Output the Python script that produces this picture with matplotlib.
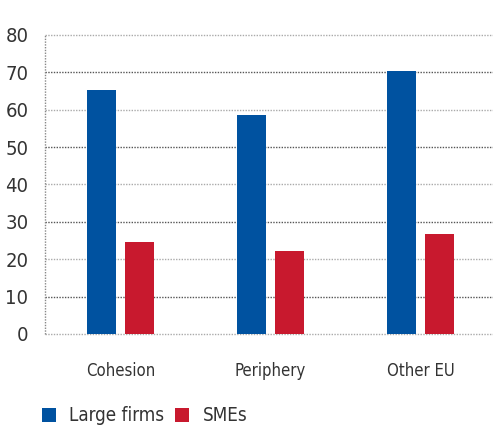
import numpy as np
import matplotlib
matplotlib.use("Agg")
from matplotlib import pyplot as plt

categories = ["Cohesion", "Periphery", "Other EU"]
large_firms = [65.2, 58.6, 70.3]
smes = [24.7, 22.2, 26.8]
yticks = [0, 10, 20, 30, 40, 50, 60, 70, 80]

plt.rcParams['font.family'] = ['DejaVu Sans']
plt.rcParams['font.stretch'] = 'condensed'

blue = '#0052a0'
red = '#c8192e'

fig = plt.figure(figsize=(4.93, 4.26), dpi=100)
ax = fig.add_axes([0.0913, 0.216, 0.9087, 0.702])

x = np.arange(len(categories))
w = 0.193
off = 0.127
ax.bar(x - off, large_firms, w, color=blue, label='Large firms', zorder=3)
ax.bar(x + off, smes, w, color=red, label='SMEs', zorder=3)

ax.set_xlim(-0.503, 2.483)
ax.set_ylim(0, 80)
for i, t in enumerate(yticks):
    c = '#555555' if i % 2 else '#aaaaaa'
    ax.axhline(t, color=c, linestyle=(0, (1, 1)), linewidth=1, zorder=1, clip_on=False)
ax.axvline(-0.503, color='#888888', linestyle=(0, (1, 1)), linewidth=1, zorder=1, clip_on=False)

for s in ax.spines.values():
    s.set_visible(False)
ax.set_yticks(yticks)
ax.set_yticklabels([str(t) for t in yticks], fontsize=14.5, color='#333333')
ax.set_xticks(x)
ax.set_xticklabels(categories, fontsize=12, color='#333333')
ax.tick_params(axis='y', length=0, pad=12)
ax.tick_params(axis='x', length=0, pad=20)

fig.legend(loc='lower left', bbox_to_anchor=(0.062, -0.025), ncol=2, frameon=False,
           fontsize=13.5, handlelength=0.75, handleheight=0.8, handletextpad=0.7,
           columnspacing=0.6, labelcolor='#333333', borderaxespad=0.2)

fig.savefig('out.png', dpi=100)
